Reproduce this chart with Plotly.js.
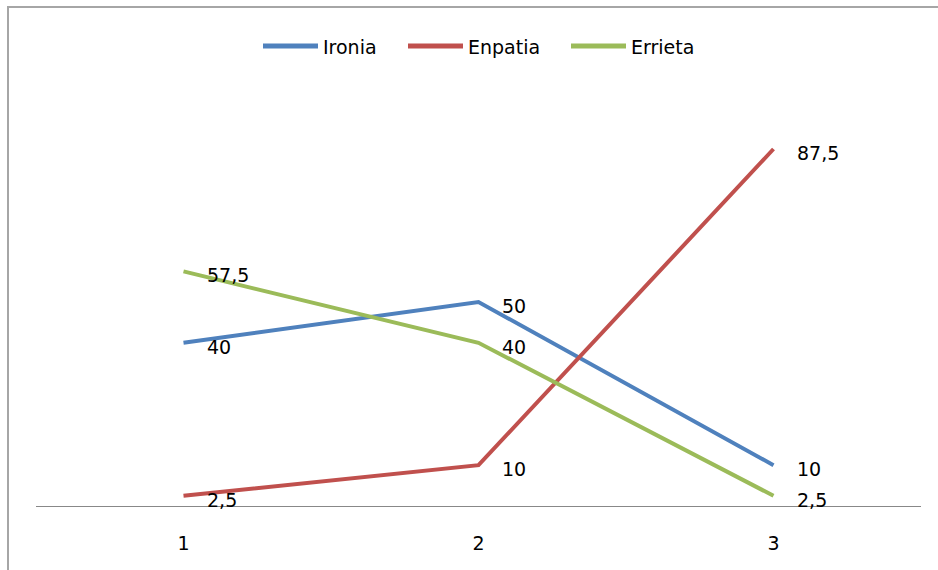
<!DOCTYPE html>
<html>
<head>
<meta charset="utf-8">
<script src="https://cdn.plot.ly/plotly-3.0.1.min.js"></script>
<style>html,body{margin:0;padding:0;background:#fff;}#chart{width:938px;height:570px;}</style>
</head>
<body>
<div id="chart"></div>
<script>
const categories = [1, 2, 3];
const seriesNames = ["Ironia", "Enpatia", "Errieta"];
const ironia = [40, 50, 10];
const enpatia = [2.5, 10, 87.5];
const errieta = [57.5, 40, 2.5];
const labelsIronia = ["40", "50", "10"];
const labelsEnpatia = ["2,5", "10", "87,5"];
const labelsErrieta = ["57,5", "40", "2,5"];
const colors = ["#4F81BD", "#C0504D", "#9BBB59"];

const allValues = [ironia, enpatia, errieta];
const allLabels = [labelsIronia, labelsEnpatia, labelsErrieta];
const FONT = "DejaVu Sans, Verdana, sans-serif";

// plot area geometry (pixels)
const W = 938, H = 570, ML = 36, MR = 17, MT = 98, MB = 64;
const PW = W - ML - MR, PH = H - MT - MB;
const px2x = p => (p - ML) / PW;
const px2y = p => 1 - (p - MT) / PH;

const traces = allValues.map((vals, i) => ({
  x: categories,
  y: vals,
  name: seriesNames[i],
  type: "scatter",
  mode: "lines",
  line: {color: colors[i], width: 4},
  hoverinfo: "skip",
  showlegend: false
}));

const annotations = [];
allValues.forEach((vals, i) => {
  vals.forEach((v, j) => {
    annotations.push({
      x: categories[j], y: v, xref: "x", yref: "y",
      text: allLabels[i][j], showarrow: false,
      xanchor: "left", yanchor: "middle", xshift: 21, yshift: -4,
      font: {family: FONT, size: 19, color: "#000"}
    });
  });
});

const shapes = [{
  type: "rect", xref: "paper", yref: "paper",
  x0: px2x(8), x1: px2x(960), y0: px2y(600), y1: px2y(7),
  line: {color: "#a6a6a6", width: 2}, fillcolor: "rgba(0,0,0,0)", layer: "below"
}];

// custom legend (long line samples like the reference)
const legendStarts = [263, 408, 571];
const legendY = 46;
seriesNames.forEach((name, i) => {
  shapes.push({
    type: "line", xref: "paper", yref: "paper",
    x0: px2x(legendStarts[i]), x1: px2x(legendStarts[i] + 55),
    y0: px2y(legendY), y1: px2y(legendY),
    line: {color: colors[i], width: 5}
  });
  annotations.push({
    xref: "paper", yref: "paper",
    x: px2x(legendStarts[i] + 58), y: px2y(legendY + 1),
    text: name, showarrow: false, xanchor: "left", yanchor: "middle",
    font: {family: FONT, size: 19, color: "#000"}
  });
});

const layout = {
  width: W, height: H,
  margin: {l: ML, r: MR, t: MT, b: MB},
  paper_bgcolor: "#fff", plot_bgcolor: "#fff",
  showlegend: false,
  xaxis: {
    range: [0.5, 3.5], tickvals: categories, ticktext: categories.map(String),
    showgrid: false, zeroline: false, showline: true, linecolor: "#888", linewidth: 1,
    ticks: "", ticklabelstandoff: 20,
    tickfont: {family: FONT, size: 19, color: "#000"},
    fixedrange: true
  },
  yaxis: {range: [0, 100], visible: false, fixedrange: true},
  annotations: annotations,
  shapes: shapes
};

Plotly.newPlot("chart", traces, layout, {staticPlot: true, displayModeBar: false});
</script>
</body>
</html>
